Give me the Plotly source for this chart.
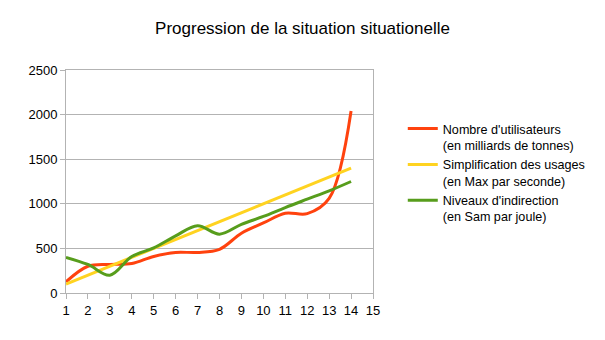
import plotly.graph_objects as go

x_vals = [1, 2, 3, 4, 5, 6, 7, 8, 9, 10, 11, 12, 13, 14]
utilisateurs = [125, 300, 320, 330, 410, 455, 455, 490, 670, 785, 895, 890, 1060, 2040]
simplification = [100, 200, 300, 400, 500, 600, 700, 800, 900, 1000, 1100, 1200, 1300, 1400]
indirection = [400, 320, 200, 410, 505, 640, 755, 660, 770, 858, 958, 1052, 1145, 1250]

names = [
    "Nombre d'utilisateurs<br>(en milliards de tonnes)",
    "Simplification des usages<br>(en Max par seconde)",
    "Niveaux d'indirection<br>(en Sam par joule)",
]
colors = ["#ff420e", "#ffd320", "#579d1c"]
series = [utilisateurs, simplification, indirection]
shapes = ["spline", "linear", "spline"]

fig = go.Figure()
for s, n, c, sh in zip(series, names, colors, shapes):
    fig.add_trace(go.Scatter(
        x=x_vals, y=s, name=n, mode="lines",
        line=dict(color=c, width=3, shape=sh, smoothing=1.0),
    ))

fig.update_layout(
    width=605, height=340,
    margin=dict(l=66, r=232, t=70, b=47),
    paper_bgcolor="white", plot_bgcolor="white",
    font=dict(family="Liberation Sans, Arial, sans-serif", size=12, color="#000000"),
    title=dict(text="Progression de la situation situationelle",
               x=0.5, xanchor="center", y=1 - 28 / 340, yanchor="middle",
               font=dict(size=17, color="#000000")),
    legend=dict(x=1.097, xanchor="left", y=0.803, yanchor="top",
                valign="top", tracegroupgap=2,
                font=dict(size=12.6, color="#000000"),
                bgcolor="rgba(0,0,0,0)"),
    showlegend=True,
)
fig.update_xaxes(
    range=[1, 15], tickmode="linear", tick0=1, dtick=1,
    showgrid=False, showline=True, linecolor="#b3b3b3", linewidth=1,
    mirror=True, ticks="outside", ticklen=5, tickcolor="#b3b3b3",
    tickfont=dict(size=13), zeroline=False,
)
fig.update_yaxes(
    range=[0, 2500], tickmode="linear", tick0=0, dtick=500,
    showgrid=True, gridcolor="#b3b3b3", gridwidth=1,
    showline=True, linecolor="#b3b3b3", linewidth=1, mirror=True,
    ticks="outside", ticklen=5, tickcolor="#b3b3b3",
    tickfont=dict(size=13), zeroline=False,
)
fig.write_html("out.html")
